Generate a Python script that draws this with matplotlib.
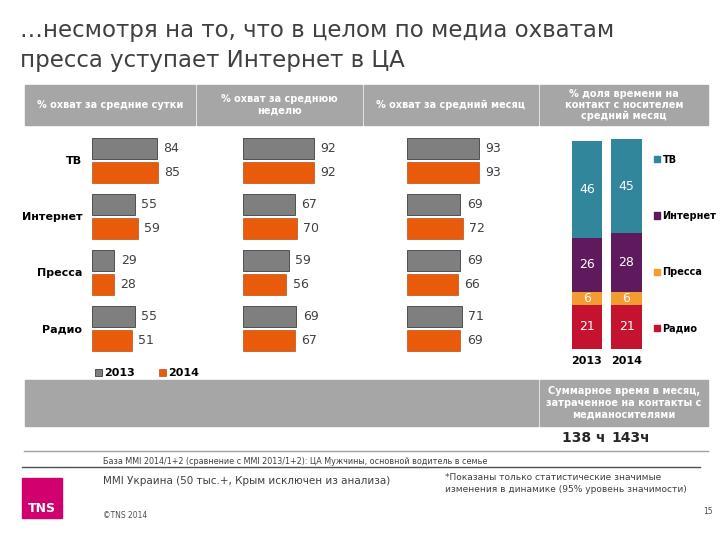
import matplotlib
matplotlib.use('Agg')
import matplotlib.pyplot as plt
from matplotlib.patches import Rectangle, Patch
from matplotlib.lines import Line2D
import numpy as np

plt.rcParams['font.family'] = ['DejaVu Sans']

# данные
media = ['ТВ', 'Интернет', 'Пресса', 'Радио']
years = ['2013', '2014']
day_2013 = [84, 55, 29, 55]
day_2014 = [85, 59, 28, 51]
week_2013 = [92, 67, 59, 69]
week_2014 = [92, 70, 56, 67]
month_2013 = [93, 69, 69, 71]
month_2014 = [93, 72, 66, 69]
share_2013 = [46, 26, 6, 21]   # ТВ, Интернет, Пресса, Радио
share_2014 = [45, 28, 6, 21]
total_hours = ['138 ч', '143ч']

headers = ['% охват за средние сутки', '% охват за среднюю\nнеделю',
           '% охват за средний месяц', '% доля времени на\nконтакт с носителем\nсредний месяц']

W, H = 720, 540
GRAY_BAR = '#7F7F7F'
ORANGE = '#EA5A0B'
HDR = '#A6A6A6'
SHARE_COLORS = ['#31869B', '#5E1A5C', '#F39C32', '#C4122F']


def px_axes(fig, x0, y0, x1, y1):
    # y0 = верх, y1 = низ, в пикселях
    return fig.add_axes([x0 / W, 1 - y1 / H, (x1 - x0) / W, (y1 - y0) / H])


def fx(x):
    return x / W


def fy(y):
    return 1 - y / H


fig = plt.figure(figsize=(7.2, 5.4), dpi=100)

# заголовок
fig.text(fx(20), fy(31), '…несмотря на то, что в целом по медиа охватам',
         fontsize=16.5, color='#404040', va='center', ha='left')
fig.text(fx(20), fy(60), 'пресса уступает Интернет в ЦА',
         fontsize=16.5, color='#404040', va='center', ha='left')

# шапка таблицы
cells = [(25, 195), (197, 362), (364, 538), (540, 708)]
for (a, b), h in zip(cells, headers):
    fig.patches.append(Rectangle((fx(a), fy(125)), (b - a) / W, 40 / H,
                                 transform=fig.transFigure, color=HDR, zorder=0))
    fig.text(fx((a + b) / 2), fy(105), h, color='white', fontsize=7,
             fontweight='bold', ha='center', va='center', linespacing=1.15)

# горизонтальные бары
scale = 0.775   # px на единицу
panels = [(92, day_2013, day_2014), (243, week_2013, week_2014),
          (407, month_2013, month_2014)]
idx = np.arange(len(media))
top_px, bot_px = 130, 360
ylo = (bot_px - 160.5) / 56
yhi = (top_px - 160.5) / 56
for k, (x0, v13, v14) in enumerate(panels):
    ax = px_axes(fig, x0, top_px, x0 + 120, bot_px)
    ax.barh(idx - 0.214, v13, height=0.375, color=GRAY_BAR,
            edgecolor='#3F3F3F', linewidth=0.6, label='2013')
    ax.barh(idx + 0.214, v14, height=0.375, color=ORANGE,
            edgecolor='#A33A05', linewidth=0.4, label='2014')
    for i in idx:
        ax.annotate(str(v13[i]), (v13[i], i - 0.214), xytext=(4.5, 0),
                    textcoords='offset points', va='center', fontsize=9,
                    color='#404040')
        ax.annotate(str(v14[i]), (v14[i], i + 0.214), xytext=(4.5, 0),
                    textcoords='offset points', va='center', fontsize=9,
                    color='#404040')
    ax.set_xlim(0, 120 / scale)
    ax.set_ylim(ylo, yhi)
    ax.set_xticks([])
    for s in ax.spines.values():
        s.set_visible(False)
    if k == 0:
        ax.set_yticks(idx)
        ax.set_yticklabels(media, fontsize=8, fontweight='bold')
        ax.tick_params(axis='y', length=0, pad=7)
        ax.legend(loc='upper left', bbox_to_anchor=(fx(85), fy(358)),
                  bbox_transform=fig.transFigure, ncol=2, frameon=False,
                  prop={'size': 8, 'weight': 'bold'}, handlelength=0.6,
                  handleheight=0.6, handletextpad=0.2, columnspacing=2.2)
    else:
        ax.set_yticks([])

# доля времени — накопленные столбцы
axs = px_axes(fig, 560, 139, 655, 349)
xs = np.arange(len(years))
share = np.array([share_2013, share_2014])
bottoms = np.zeros(2)
for j in range(len(media) - 1, -1, -1):
    vals = share[:, j]
    axs.bar(xs, vals, bottom=bottoms, width=0.76, color=SHARE_COLORS[j])
    for xi, v, b in zip(xs, vals, bottoms):
        axs.text(xi, b + v / 2, str(v), ha='center', va='center',
                 color='white', fontsize=9)
    bottoms = bottoms + vals
axs.set_xlim(-(587 - 560) / 39.5, (655 - 587) / 39.5)
axs.set_ylim(0, 100)
axs.set_yticks([])
axs.set_xticks(xs)
axs.set_xticklabels(years, fontsize=8, fontweight='bold')
axs.tick_params(axis='x', length=0, pad=5)
for s in axs.spines.values():
    s.set_visible(False)
handles = [Patch(color=c, label=m) for c, m in zip(SHARE_COLORS, media)]
fig.legend(handles=handles, loc='upper left', bbox_to_anchor=(fx(645), fy(146)),
           frameon=False, prop={'size': 7, 'weight': 'bold'}, handlelength=0.6,
           handleheight=0.6, handletextpad=0.3, labelspacing=4.75)

# нижняя полоса
for a, b in [(25, 538), (540, 708)]:
    fig.patches.append(Rectangle((fx(a), fy(426)), (b - a) / W, 46 / H,
                                 transform=fig.transFigure, color=HDR, zorder=0))
fig.text(fx(624), fy(403), 'Суммарное время в месяц,\nзатраченное на контакты с\nмедианосителями',
         color='white', fontsize=7, fontweight='bold', ha='center', va='center',
         linespacing=1.2)
fig.text(fx(584), fy(438), total_hours[0], fontsize=10, fontweight='bold',
         color='#262626', ha='center', va='center')
fig.text(fx(631), fy(438), total_hours[1], fontsize=10, fontweight='bold',
         color='#262626', ha='center', va='center')

fig.add_artist(Line2D([fx(24), fx(708)], [fy(451), fy(451)], color='#A0A0A0',
                      linewidth=1, transform=fig.transFigure))
fig.add_artist(Line2D([fx(22), fx(700)], [fy(467), fy(467)], color='#505050',
                      linewidth=1, transform=fig.transFigure))

fig.text(fx(103), fy(461), 'База MMI 2014/1+2 (сравнение с MMI 2013/1+2): ЦА Мужчины, основной водитель в семье',
         fontsize=5.8, color='#404040', va='center')
fig.text(fx(103), fy(481), 'MMI Украина (50 тыс.+, Крым исключен из анализа)',
         fontsize=7.5, color='#404040', va='center')
fig.text(fx(445), fy(478), '*Показаны только статистические значимые',
         fontsize=6.5, color='#404040', va='center')
fig.text(fx(445), fy(490), 'изменения в динамике (95% уровень значимости)',
         fontsize=6.5, color='#404040', va='center')
fig.text(fx(103), fy(515), '©TNS 2014', fontsize=5.5, color='#505050', va='center')
fig.text(fx(703), fy(512), '15', fontsize=5.5, color='#505050', va='center')

fig.patches.append(Rectangle((fx(22), fy(518)), 40 / W, 40 / H,
                             transform=fig.transFigure, color='#D0006F', zorder=0))
fig.text(fx(42), fy(509), 'TNS', color='white', fontsize=9, fontweight='bold',
         ha='center', va='center')

fig.savefig('out.png', dpi=100)
